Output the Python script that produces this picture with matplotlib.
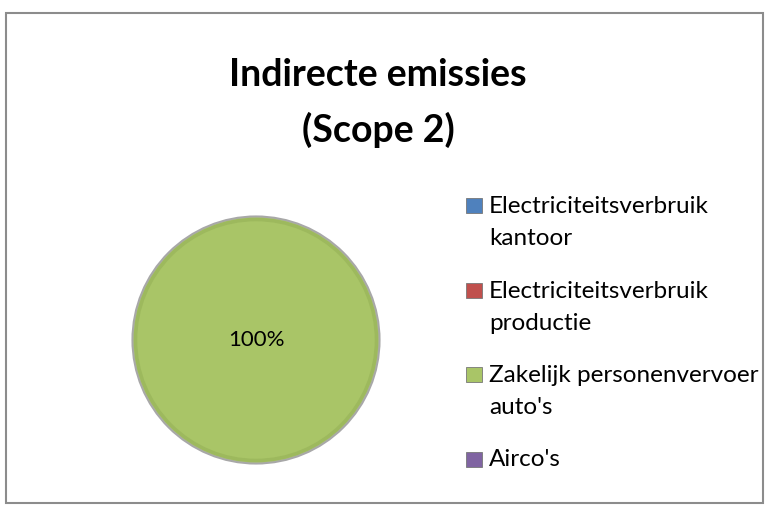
import matplotlib
matplotlib.use("Agg")
import matplotlib.pyplot as plt
from matplotlib.patches import Rectangle, Circle

# Chart data
categories = ["Electriciteitsverbruik\nkantoor",
              "Electriciteitsverbruik\nproductie",
              "Zakelijk personenvervoer\nauto's",
              "Airco's"]
values = [0, 0, 100, 0]
colors = ["#4F81BD", "#C0504D", "#A9C567", "#8064A2"]
title_lines = ["Indirecte emissies", "(Scope 2)"]

plt.rcParams['font.family'] = ['Lato', 'DejaVu Sans']

W, H = 765, 505
fig = plt.figure(figsize=(W / 100, H / 100), dpi=100)

# chart frame
fig.patches.append(Rectangle((6 / W, 2 / H), 757 / W, (H - 15) / H,
                             transform=fig.transFigure, fill=False,
                             edgecolor="#8c8c8c", linewidth=1.5))

# title
fig.text(378 / W, 1 - 75 / H, title_lines[0], ha="center", va="center",
         fontsize=27, fontweight="bold")
fig.text(378 / W, 1 - 130 / H, title_lines[1], ha="center", va="center",
         fontsize=27, fontweight="bold")

# pie
cx, cy, r = 256, 340, 126
ax = fig.add_axes([(cx - r) / W, (H - cy - r) / H, 2 * r / W, 2 * r / H])
wedges, texts, autotexts = ax.pie(
    values, colors=colors, startangle=90, counterclock=False,
    pctdistance=0, autopct=lambda p: f"{p:.0f}%" if p > 0 else "",
    wedgeprops=dict(linewidth=0),
    textprops=dict(fontsize=16, color="black"))
for w, v in zip(wedges, values):
    if v == 0:
        w.set_visible(False)
# bevel-ish rim
ax.add_patch(Circle((0, 0), 0.975, fill=False, edgecolor="#9db95d", linewidth=2.5, zorder=2))
ax.add_patch(Circle((0, 0), 1.0, fill=False, edgecolor="#a8a8a8", linewidth=1.5, zorder=3))
ax.set_xlim(-1.02, 1.02)
ax.set_ylim(-1.02, 1.02)
ax.set_aspect("equal")
ax.axis("off")

# legend, drawn by hand so that the marker sits on the first line
y = 205
for lab, col in zip(categories, colors):
    fig.patches.append(Rectangle((466 / W, 1 - (y + 8) / H), 16 / W, 15 / H,
                                 transform=fig.transFigure, facecolor=col,
                                 edgecolor="#777777", linewidth=0.6))
    fig.text(489 / W, 1 - (y - 9) / H, lab, ha="left", va="top",
             fontsize=17.5, linespacing=1.65)
    y += 33 * (lab.count("\n") + 1) + 18.5

fig.savefig("out.png", dpi=100)
